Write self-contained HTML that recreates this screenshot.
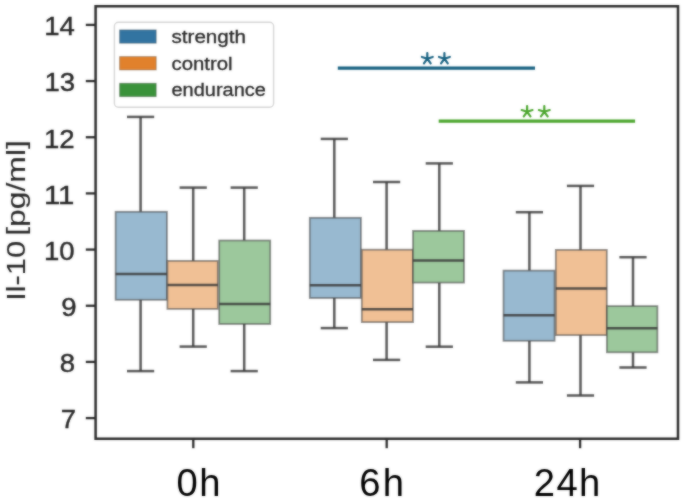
<!DOCTYPE html>
<html><head><meta charset="utf-8"><style>
html,body{margin:0;padding:0;background:#fff;}
body{width:685px;height:498px;overflow:hidden;}
svg{display:block;}
text{font-family:"Liberation Sans",sans-serif;}
</style></head><body>
<svg width="685" height="498" viewBox="0 0 685 498">
<defs><filter id="soft" x="0" y="0" width="685" height="498" filterUnits="userSpaceOnUse" color-interpolation-filters="sRGB">
<feGaussianBlur in="SourceGraphic" stdDeviation="1.0" result="b"/>
<feComposite in="SourceGraphic" in2="b" operator="arithmetic" k1="0" k2="0.45" k3="0.55" k4="0"/>
</filter></defs>
<g filter="url(#soft)">
<rect x="0" y="0" width="685" height="498" fill="#fff"/>

<line x1="140.60" y1="116.90" x2="140.60" y2="211.80" stroke="rgba(55,55,55,0.83)" stroke-width="2.5"/>
<line x1="140.60" y1="299.80" x2="140.60" y2="371.10" stroke="rgba(55,55,55,0.83)" stroke-width="2.5"/>
<line x1="127.00" y1="116.90" x2="154.20" y2="116.90" stroke="rgba(55,55,55,0.83)" stroke-width="2.5"/>
<line x1="127.00" y1="371.10" x2="154.20" y2="371.10" stroke="rgba(55,55,55,0.83)" stroke-width="2.5"/>
<rect x="115.60" y="211.80" width="51.30" height="88.00" fill="#98b9d0" stroke="rgba(61,61,61,0.55)" stroke-width="1.8"/>
<line x1="115.60" y1="273.90" x2="166.90" y2="273.90" stroke="rgba(55,55,55,0.83)" stroke-width="2.5"/>
<line x1="193.20" y1="187.60" x2="193.20" y2="260.90" stroke="rgba(55,55,55,0.83)" stroke-width="2.5"/>
<line x1="193.20" y1="308.90" x2="193.20" y2="346.60" stroke="rgba(55,55,55,0.83)" stroke-width="2.5"/>
<line x1="179.60" y1="187.60" x2="206.80" y2="187.60" stroke="rgba(55,55,55,0.83)" stroke-width="2.5"/>
<line x1="179.60" y1="346.60" x2="206.80" y2="346.60" stroke="rgba(55,55,55,0.83)" stroke-width="2.5"/>
<rect x="167.40" y="260.90" width="50.40" height="48.00" fill="#f0c095" stroke="rgba(61,61,61,0.55)" stroke-width="1.8"/>
<line x1="167.40" y1="284.90" x2="217.80" y2="284.90" stroke="rgba(55,55,55,0.83)" stroke-width="2.5"/>
<line x1="244.20" y1="187.60" x2="244.20" y2="240.50" stroke="rgba(55,55,55,0.83)" stroke-width="2.5"/>
<line x1="244.20" y1="324.00" x2="244.20" y2="371.10" stroke="rgba(55,55,55,0.83)" stroke-width="2.5"/>
<line x1="230.60" y1="187.60" x2="257.80" y2="187.60" stroke="rgba(55,55,55,0.83)" stroke-width="2.5"/>
<line x1="230.60" y1="371.10" x2="257.80" y2="371.10" stroke="rgba(55,55,55,0.83)" stroke-width="2.5"/>
<rect x="219.20" y="240.50" width="51.00" height="83.50" fill="#9cc89c" stroke="rgba(61,61,61,0.55)" stroke-width="1.8"/>
<line x1="219.20" y1="303.90" x2="270.20" y2="303.90" stroke="rgba(55,55,55,0.83)" stroke-width="2.5"/>
<line x1="334.30" y1="138.90" x2="334.30" y2="217.80" stroke="rgba(55,55,55,0.83)" stroke-width="2.5"/>
<line x1="334.30" y1="298.00" x2="334.30" y2="328.10" stroke="rgba(55,55,55,0.83)" stroke-width="2.5"/>
<line x1="320.70" y1="138.90" x2="347.90" y2="138.90" stroke="rgba(55,55,55,0.83)" stroke-width="2.5"/>
<line x1="320.70" y1="328.10" x2="347.90" y2="328.10" stroke="rgba(55,55,55,0.83)" stroke-width="2.5"/>
<rect x="309.80" y="217.80" width="51.10" height="80.20" fill="#98b9d0" stroke="rgba(61,61,61,0.55)" stroke-width="1.8"/>
<line x1="309.80" y1="285.20" x2="360.90" y2="285.20" stroke="rgba(55,55,55,0.83)" stroke-width="2.5"/>
<line x1="386.60" y1="182.00" x2="386.60" y2="249.70" stroke="rgba(55,55,55,0.83)" stroke-width="2.5"/>
<line x1="386.60" y1="322.10" x2="386.60" y2="359.90" stroke="rgba(55,55,55,0.83)" stroke-width="2.5"/>
<line x1="373.00" y1="182.00" x2="400.20" y2="182.00" stroke="rgba(55,55,55,0.83)" stroke-width="2.5"/>
<line x1="373.00" y1="359.90" x2="400.20" y2="359.90" stroke="rgba(55,55,55,0.83)" stroke-width="2.5"/>
<rect x="361.80" y="249.70" width="51.20" height="72.40" fill="#f0c095" stroke="rgba(61,61,61,0.55)" stroke-width="1.8"/>
<line x1="361.80" y1="309.20" x2="413.00" y2="309.20" stroke="rgba(55,55,55,0.83)" stroke-width="2.5"/>
<line x1="439.30" y1="163.40" x2="439.30" y2="230.90" stroke="rgba(55,55,55,0.83)" stroke-width="2.5"/>
<line x1="439.30" y1="282.60" x2="439.30" y2="346.70" stroke="rgba(55,55,55,0.83)" stroke-width="2.5"/>
<line x1="425.70" y1="163.40" x2="452.90" y2="163.40" stroke="rgba(55,55,55,0.83)" stroke-width="2.5"/>
<line x1="425.70" y1="346.70" x2="452.90" y2="346.70" stroke="rgba(55,55,55,0.83)" stroke-width="2.5"/>
<rect x="413.00" y="230.90" width="51.00" height="51.70" fill="#9cc89c" stroke="rgba(61,61,61,0.55)" stroke-width="1.8"/>
<line x1="413.00" y1="260.40" x2="464.00" y2="260.40" stroke="rgba(55,55,55,0.83)" stroke-width="2.5"/>
<line x1="529.40" y1="212.20" x2="529.40" y2="270.60" stroke="rgba(55,55,55,0.83)" stroke-width="2.5"/>
<line x1="529.40" y1="340.80" x2="529.40" y2="382.40" stroke="rgba(55,55,55,0.83)" stroke-width="2.5"/>
<line x1="515.80" y1="212.20" x2="543.00" y2="212.20" stroke="rgba(55,55,55,0.83)" stroke-width="2.5"/>
<line x1="515.80" y1="382.40" x2="543.00" y2="382.40" stroke="rgba(55,55,55,0.83)" stroke-width="2.5"/>
<rect x="503.50" y="270.60" width="51.10" height="70.20" fill="#98b9d0" stroke="rgba(61,61,61,0.55)" stroke-width="1.8"/>
<line x1="503.50" y1="315.20" x2="554.60" y2="315.20" stroke="rgba(55,55,55,0.83)" stroke-width="2.5"/>
<line x1="580.50" y1="185.90" x2="580.50" y2="249.90" stroke="rgba(55,55,55,0.83)" stroke-width="2.5"/>
<line x1="580.50" y1="335.10" x2="580.50" y2="395.50" stroke="rgba(55,55,55,0.83)" stroke-width="2.5"/>
<line x1="566.90" y1="185.90" x2="594.10" y2="185.90" stroke="rgba(55,55,55,0.83)" stroke-width="2.5"/>
<line x1="566.90" y1="395.50" x2="594.10" y2="395.50" stroke="rgba(55,55,55,0.83)" stroke-width="2.5"/>
<rect x="555.80" y="249.90" width="51.00" height="85.20" fill="#f0c095" stroke="rgba(61,61,61,0.55)" stroke-width="1.8"/>
<line x1="555.80" y1="288.60" x2="606.80" y2="288.60" stroke="rgba(55,55,55,0.83)" stroke-width="2.5"/>
<line x1="633.00" y1="257.20" x2="633.00" y2="306.10" stroke="rgba(55,55,55,0.83)" stroke-width="2.5"/>
<line x1="633.00" y1="352.30" x2="633.00" y2="367.50" stroke="rgba(55,55,55,0.83)" stroke-width="2.5"/>
<line x1="619.40" y1="257.20" x2="646.60" y2="257.20" stroke="rgba(55,55,55,0.83)" stroke-width="2.5"/>
<line x1="619.40" y1="367.50" x2="646.60" y2="367.50" stroke="rgba(55,55,55,0.83)" stroke-width="2.5"/>
<rect x="606.90" y="306.10" width="50.50" height="46.20" fill="#9cc89c" stroke="rgba(61,61,61,0.55)" stroke-width="1.8"/>
<line x1="606.90" y1="328.30" x2="657.40" y2="328.30" stroke="rgba(55,55,55,0.83)" stroke-width="2.5"/>
<line x1="337.8" y1="68.1" x2="535" y2="68.1" stroke="#176181" stroke-width="3.2"/>
<path d="M427.30 58.70L427.30 53.00M427.30 58.70L421.88 56.94M427.30 58.70L423.95 63.31M427.30 58.70L430.65 63.31M427.30 58.70L432.72 56.94" stroke="#176181" stroke-width="2.2" stroke-linecap="round" fill="none"/>
<path d="M444.40 58.70L444.40 53.00M444.40 58.70L438.98 56.94M444.40 58.70L441.05 63.31M444.40 58.70L447.75 63.31M444.40 58.70L449.82 56.94" stroke="#176181" stroke-width="2.2" stroke-linecap="round" fill="none"/>
<line x1="438.7" y1="121.2" x2="635.1" y2="121.2" stroke="#4ba62e" stroke-width="3.2"/>
<path d="M527.10 111.80L527.10 106.10M527.10 111.80L521.68 110.04M527.10 111.80L523.75 116.41M527.10 111.80L530.45 116.41M527.10 111.80L532.52 110.04" stroke="#4ba62e" stroke-width="2.2" stroke-linecap="round" fill="none"/>
<path d="M544.30 111.80L544.30 106.10M544.30 111.80L538.88 110.04M544.30 111.80L540.95 116.41M544.30 111.80L547.65 116.41M544.30 111.80L549.72 110.04" stroke="#4ba62e" stroke-width="2.2" stroke-linecap="round" fill="none"/>
<rect x="114.4" y="22.2" width="159.2" height="85" rx="4" ry="4" fill="#fff" stroke="#d6d6d6" stroke-width="1.4"/>
<rect x="119.6" y="29.90" width="36.6" height="13.3" fill="#3274a1" stroke="rgba(61,61,61,0.35)" stroke-width="1"/>
<text x="171.5" y="43.00" font-size="18.6" fill="#262626" stroke="#262626" stroke-width="0.3" transform="translate(171.5 0) scale(1.11 1) translate(-171.5 0)">strength</text>
<rect x="119.6" y="56.60" width="36.6" height="13.3" fill="#e1812c" stroke="rgba(61,61,61,0.35)" stroke-width="1"/>
<text x="171.5" y="69.70" font-size="18.6" fill="#262626" stroke="#262626" stroke-width="0.3" transform="translate(171.5 0) scale(1.095 1) translate(-171.5 0)">control</text>
<rect x="119.6" y="83.30" width="36.6" height="13.3" fill="#3a923a" stroke="rgba(61,61,61,0.35)" stroke-width="1"/>
<text x="171.5" y="96.40" font-size="18.6" fill="#262626" stroke="#262626" stroke-width="0.3" transform="translate(171.5 0) scale(1.075 1) translate(-171.5 0)">endurance</text>
<path d="M95.6 6.3H678.0V438.7H95.6Z" fill="none" stroke="#2b2b2b" stroke-width="2.5"/>
<line x1="85.8" y1="418.09" x2="95.6" y2="418.09" stroke="#2b2b2b" stroke-width="2.3"/>
<text x="76.2" y="428.39" font-size="26" fill="#262626" stroke="#262626" stroke-width="0.4" text-anchor="end" transform="translate(76.2 0) scale(1.06 1) translate(-76.2 0)">7</text>
<line x1="85.8" y1="361.92" x2="95.6" y2="361.92" stroke="#2b2b2b" stroke-width="2.3"/>
<text x="75.2" y="372.22" font-size="26" fill="#262626" stroke="#262626" stroke-width="0.4" text-anchor="end" transform="translate(75.2 0) scale(1.06 1) translate(-75.2 0)">8</text>
<line x1="85.8" y1="305.75" x2="95.6" y2="305.75" stroke="#2b2b2b" stroke-width="2.3"/>
<text x="76.6" y="316.05" font-size="26" fill="#262626" stroke="#262626" stroke-width="0.4" text-anchor="end" transform="translate(76.6 0) scale(1.06 1) translate(-76.6 0)">9</text>
<line x1="85.8" y1="249.58" x2="95.6" y2="249.58" stroke="#2b2b2b" stroke-width="2.3"/>
<text x="74.7" y="259.88" font-size="26" fill="#262626" stroke="#262626" stroke-width="0.4" text-anchor="end" transform="translate(74.7 0) scale(1.06 1) translate(-74.7 0)">10</text>
<line x1="85.8" y1="193.41" x2="95.6" y2="193.41" stroke="#2b2b2b" stroke-width="2.3"/>
<text x="74.4" y="203.71" font-size="26" fill="#262626" stroke="#262626" stroke-width="0.4" text-anchor="end" transform="translate(74.4 0) scale(1.13 1) translate(-74.4 0)">11</text>
<line x1="85.8" y1="137.24" x2="95.6" y2="137.24" stroke="#2b2b2b" stroke-width="2.3"/>
<text x="74.6" y="147.54" font-size="26" fill="#262626" stroke="#262626" stroke-width="0.4" text-anchor="end" transform="translate(74.6 0) scale(1.06 1) translate(-74.6 0)">12</text>
<line x1="85.8" y1="81.07" x2="95.6" y2="81.07" stroke="#2b2b2b" stroke-width="2.3"/>
<text x="75.1" y="91.37" font-size="26" fill="#262626" stroke="#262626" stroke-width="0.4" text-anchor="end" transform="translate(75.1 0) scale(1.06 1) translate(-75.1 0)">13</text>
<line x1="85.8" y1="24.90" x2="95.6" y2="24.90" stroke="#2b2b2b" stroke-width="2.3"/>
<text x="74.8" y="35.20" font-size="26" fill="#262626" stroke="#262626" stroke-width="0.4" text-anchor="end" transform="translate(74.8 0) scale(1.06 1) translate(-74.8 0)">14</text>
<line x1="193.3" y1="438.7" x2="193.3" y2="448.2" stroke="#2b2b2b" stroke-width="2.3"/>
<line x1="386.7" y1="438.7" x2="386.7" y2="448.2" stroke="#2b2b2b" stroke-width="2.3"/>
<line x1="580.1" y1="438.7" x2="580.1" y2="448.2" stroke="#2b2b2b" stroke-width="2.3"/>
<text x="176.5" y="495.5" font-size="38.2" fill="#000" letter-spacing="1.6">0h</text>
<text x="359.2" y="495.5" font-size="38.2" fill="#000" letter-spacing="2.3">6h</text>
<text x="533.8" y="495.5" font-size="38.2" fill="#000" letter-spacing="1.4">24h</text>
<text x="0" y="0" font-size="26.3" fill="#262626" stroke="#262626" stroke-width="0.12" transform="translate(24.9 300.8) rotate(-90) scale(1.17 1)">Il-10</text>
<text x="0" y="0" font-size="26.3" fill="#262626" stroke="#262626" stroke-width="0.12" transform="translate(24.9 235.8) rotate(-90) scale(1.212 1)">[pg/ml]</text>
</g></svg>
</body></html>
